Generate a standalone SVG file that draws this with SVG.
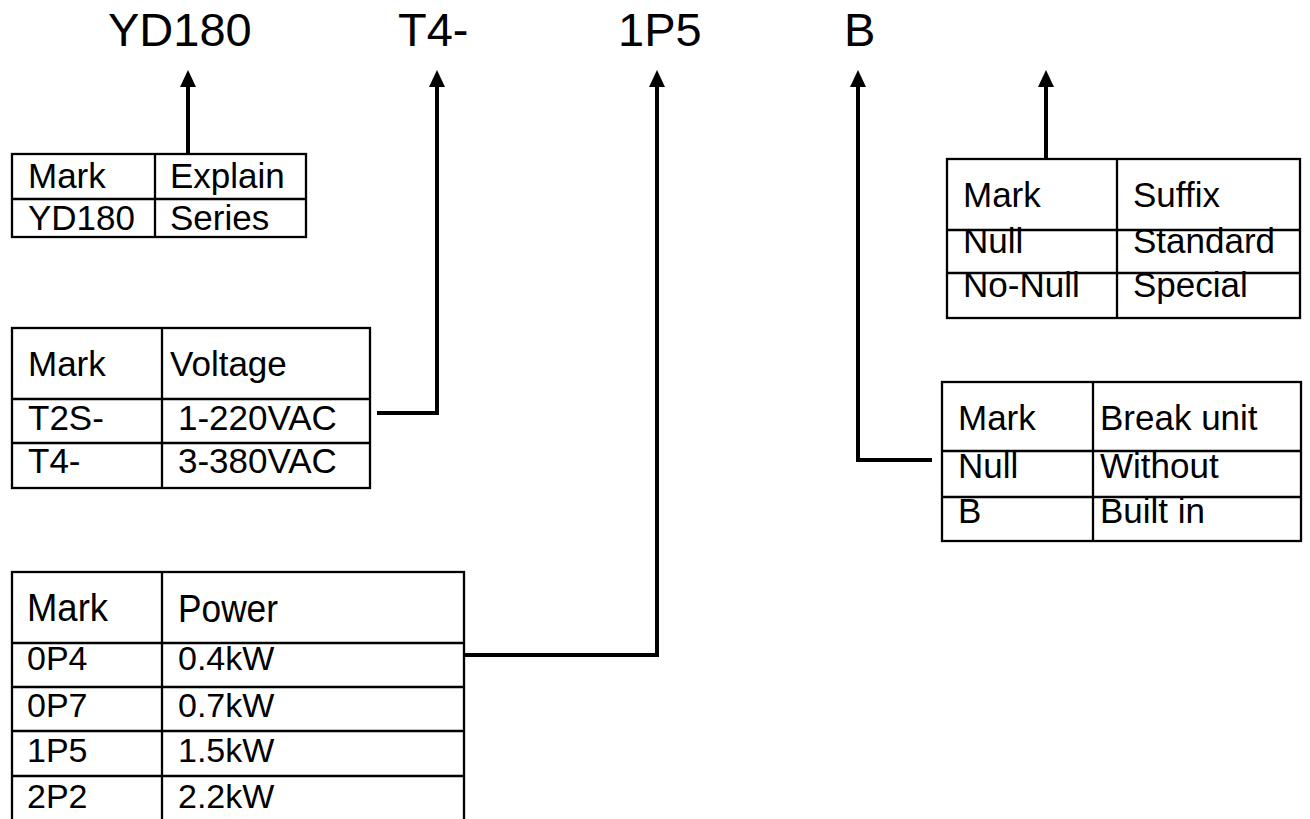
<svg xmlns="http://www.w3.org/2000/svg" width="1310" height="819" viewBox="0 0 1310 819">
<style>
text{font-family:"Liberation Sans",Arial,sans-serif;fill:#000}
.h{font-size:47px}
.t{font-size:35px}
.t3{font-size:38px}
.r{font-size:34px}
.b{fill:none;stroke:#000;stroke-width:2.3}
.c{fill:none;stroke:#000;stroke-width:4;marker-end:url(#ah)}
</style>
<defs>
<marker id="ah" markerUnits="userSpaceOnUse" markerWidth="20" markerHeight="20" refX="0" refY="8" orient="auto" overflow="visible">
<path d="M0,0 L17,8 L0,16 z" fill="#000"/>
</marker>
</defs>
<g id="code">
<text class="h" x="108" y="46">YD180</text>
<text class="h" x="398" y="46">T4-</text>
<text class="h" x="618" y="46">1P5</text>
<text class="h" x="844" y="46">B</text>
</g>
<g id="connectors">
<path class="c" d="M188,154 V87"/>
<path class="c" d="M377,413 H437 V87"/>
<path class="c" d="M465,655 H657 V87"/>
<path class="c" d="M932,460 H858 V87"/>
<path class="c" d="M1046,159 V87"/>
</g>
<g id="series-table">
<rect class="b" x="12" y="154" width="294" height="83"/>
<path class="b" d="M12,199 H306 M155,154 V237"/>
<text class="t" x="28" y="188">Mark</text>
<text class="t" x="170" y="188">Explain</text>
<text class="t" x="28" y="230">YD180</text>
<text class="t" x="170" y="230">Series</text>
</g>
<g id="voltage-table">
<rect class="b" x="12" y="328" width="358" height="160"/>
<path class="b" d="M12,399 H370 M12,443 H370 M162,328 V488"/>
<text class="t" x="28" y="376">Mark</text>
<text class="t" x="170" y="376">Voltage</text>
<text class="t" x="28" y="430">T2S-</text>
<text class="t" x="178" y="430">1-220VAC</text>
<text class="t" x="28" y="473">T4-</text>
<text class="t" x="178" y="473">3-380VAC</text>
</g>
<g id="power-table">
<rect class="b" x="12" y="572" width="452" height="252"/>
<path class="b" d="M12,643 H464 M12,687 H464 M12,731 H464 M12,776 H464 M162,572 V824"/>
<text class="t3" x="27" y="621" textLength="81" lengthAdjust="spacingAndGlyphs">Mark</text>
<text class="t3" x="178" y="622" textLength="100" lengthAdjust="spacingAndGlyphs">Power</text>
<text class="r" x="27" y="670">0P4</text>
<text class="r" x="178" y="670">0.4kW</text>
<text class="r" x="27" y="717">0P7</text>
<text class="r" x="178" y="717">0.7kW</text>
<text class="r" x="27" y="762">1P5</text>
<text class="r" x="178" y="762">1.5kW</text>
<text class="r" x="27" y="808">2P2</text>
<text class="r" x="178" y="808">2.2kW</text>
</g>
<g id="suffix-table">
<rect class="b" x="947" y="159" width="353" height="159"/>
<path class="b" d="M947,230 H1300 M947,273 H1300 M1117,159 V318"/>
<text class="t" x="963" y="207">Mark</text>
<text class="t" x="1133" y="207">Suffix</text>
<text class="t" x="963" y="253">Null</text>
<text class="t" x="1133" y="253">Standard</text>
<text class="t" x="963" y="297">No-Null</text>
<text class="t" x="1133" y="297">Special</text>
</g>
<g id="brake-table">
<rect class="b" x="942" y="382" width="359" height="159"/>
<path class="b" d="M942,451 H1301 M942,497 H1301 M1093,382 V541"/>
<text class="t" x="958" y="430">Mark</text>
<text class="t" x="1100" y="430">Break unit</text>
<text class="t" x="958" y="478">Null</text>
<text class="t" x="1100" y="478">Without</text>
<text class="t" x="958" y="523">B</text>
<text class="t" x="1100" y="523">Built in</text>
</g>
</svg>
